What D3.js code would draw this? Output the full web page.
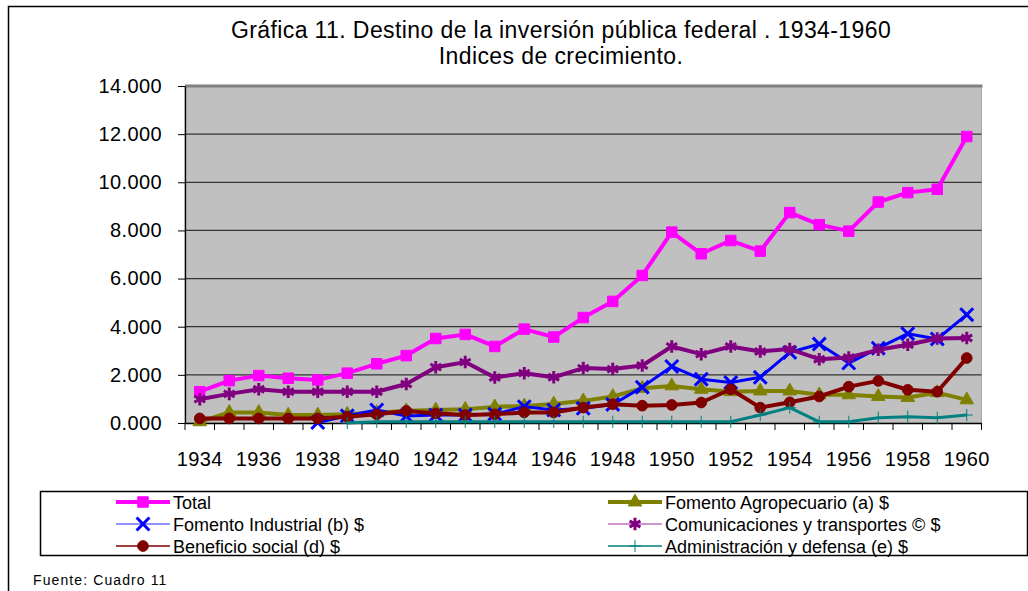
<!DOCTYPE html>
<html>
<head>
<meta charset="utf-8">
<script src="https://cdn.jsdelivr.net/npm/d3@7"></script>
<style>
    body { margin: 0; background: #fff; }
    svg { font-family: "Liberation Sans", Arial, sans-serif; }
</style>
</head>
<body>
<svg id="chart" width="1028" height="591"></svg>
<script>
// years on the category axis
const years = d3.range(1934, 1961);
const yearLabels = years.filter(y => y % 2 === 0);
const yTicks = [0, 2, 4, 6, 8, 10, 12, 14];

// growth indices (null = no value)
const total = [1.30, 1.76, 1.97, 1.86, 1.79, 2.07, 2.46, 2.80, 3.51, 3.68, 3.18, 3.90, 3.57, 4.38,
    5.05, 6.13, 7.93, 7.03, 7.58, 7.14, 8.74, 8.24, 7.97, 9.18, 9.57, 9.71, 11.90];
const agropecuario = [0.05, 0.44, 0.44, 0.33, 0.33, 0.36, 0.43, 0.51, 0.54, 0.57, 0.67, 0.71, 0.79, 0.92,
    1.10, 1.44, 1.54, 1.40, 1.30, 1.33, 1.33, 1.17, 1.17, 1.10, 1.06, 1.26, 0.96];
const industrial = [null, null, null, null, 0.02, 0.30, 0.54, 0.29, 0.33, 0.33, 0.37, 0.68, 0.54, 0.61,
    0.77, 1.49, 2.35, 1.82, 1.68, 1.90, 2.93, 3.28, 2.49, 3.11, 3.71, 3.49, 4.50];
const comunicaciones = [0.99, 1.21, 1.40, 1.30, 1.30, 1.30, 1.30, 1.62, 2.32, 2.53, 1.89, 2.07, 1.90, 2.28,
    2.24, 2.39, 3.18, 2.86, 3.18, 2.97, 3.07, 2.65, 2.72, 3.04, 3.25, 3.51, 3.53];
const beneficio = [0.19, 0.19, 0.19, 0.19, 0.19, 0.26, 0.36, 0.50, 0.40, 0.33, 0.36, 0.44, 0.44, 0.64,
    0.78, 0.72, 0.75, 0.85, 1.40, 0.64, 0.86, 1.10, 1.51, 1.75, 1.38, 1.30, 2.70];
const administracion = [null, null, null, null, null, 0.00, 0.05, 0.05, 0.05, 0.05, 0.05, 0.05, 0.05, 0.05,
    0.05, 0.05, 0.05, 0.05, 0.05, 0.33, 0.64, 0.05, 0.05, 0.22, 0.26, 0.22, 0.33];

const series = [
    { name: 'Total', values: total, color: '#ff00ff', legendColor: '#ff00ff', width: 4, legendWidth: 4, symbol: d3.symbolSquare, size: 110, fill: true },
    { name: 'Fomento Agropecuario (a) $', values: agropecuario, color: '#808000', legendColor: '#808000', width: 4, legendWidth: 4, symbol: d3.symbolTriangle, size: 80, fill: true },
    { name: 'Fomento Industrial (b) $', values: industrial, color: '#0000ff', legendColor: '#6f6fff', width: 3, legendWidth: 1.5, symbol: d3.symbolTimes, size: 110, fill: false },
    { name: 'Comunicaciones y transportes © $', values: comunicaciones, color: '#800080', legendColor: '#c070c0', width: 4, legendWidth: 1.5, symbol: d3.symbolAsterisk, size: 110, fill: false },
    { name: 'Beneficio social (d) $', values: beneficio, color: '#800000', legendColor: '#800000', width: 4, legendWidth: 1.5, symbol: d3.symbolCircle, size: 90, fill: true },
    { name: 'Administración y defensa (e)  $', values: administracion, color: '#008080', legendColor: '#008080', width: 3, legendWidth: 1.5, symbol: d3.symbolPlus, size: 50, fill: true }
];

const plot = { left: 185, right: 981.5, top: 86, bottom: 423 };

const svg = d3.select('#chart');

// outer chart border (only top and left fall inside the picture)
svg.append('rect')
    .attr('x', 8.5).attr('y', 6.5)
    .attr('width', 1040).attr('height', 600)
    .attr('fill', '#fff').attr('stroke', '#000').attr('stroke-width', 1.5);

const x = d3.scaleBand().domain(years).range([plot.left, plot.right]).padding(0);
const y = d3.scaleLinear().domain([0, 14]).range([plot.bottom, plot.top]);
const cx = d => x(d) + x.bandwidth() / 2;

// plot area
svg.append('rect')
    .attr('x', plot.left).attr('y', plot.top)
    .attr('width', plot.right - plot.left).attr('height', plot.bottom - plot.top)
    .attr('fill', '#c0c0c0')
    .attr('stroke', '#a6a6a6').attr('stroke-width', 1);

// gridlines
svg.append('g')
    .selectAll('line')
    .data(yTicks.slice(1, -1))
    .join('line')
    .attr('x1', plot.left).attr('x2', plot.right)
    .attr('y1', d => y(d)).attr('y2', d => y(d))
    .attr('stroke', '#333').attr('stroke-width', 1.3);

// heavy top edge of the plot area
svg.append('line')
    .attr('x1', plot.left).attr('x2', plot.right + 1)
    .attr('y1', plot.top).attr('y2', plot.top)
    .attr('stroke', '#808080').attr('stroke-width', 3);

// y axis
const yAxis = svg.append('g')
    .attr('transform', `translate(${plot.left},0)`)
    .call(d3.axisLeft(y).tickValues(yTicks).tickSize(7).tickSizeOuter(0).tickPadding(16)
        .tickFormat(d3.format('.3f')));
yAxis.select('.domain').attr('stroke', '#000').attr('stroke-width', 1.3);
yAxis.selectAll('.tick line').attr('stroke', '#000');
yAxis.selectAll('text').attr('font-size', 20).attr('fill', '#000')
    .attr('font-family', '"Liberation Sans", Arial, sans-serif').attr('letter-spacing', 0.4);

// x axis: labels at centres of every other year, ticks between categories
const xAxis = svg.append('g')
    .attr('transform', `translate(0,${plot.bottom})`)
    .call(d3.axisBottom(x).tickValues(yearLabels).tickSize(0).tickPadding(29));
xAxis.select('.domain').attr('stroke', '#000').attr('stroke-width', 1.3);
xAxis.selectAll('text').attr('font-size', 20).attr('fill', '#000')
    .attr('font-family', '"Liberation Sans", Arial, sans-serif').attr('letter-spacing', 0.4);
xAxis.selectAll('.sep')
    .data(years.map(d => x(d)).concat([plot.right]))
    .join('line')
    .attr('class', 'sep')
    .attr('x1', d => d).attr('x2', d => d)
    .attr('y1', 0).attr('y2', 7)
    .attr('stroke', '#000');

// series lines and markers
const line = d3.line()
    .defined(d => d.v !== null)
    .x(d => cx(d.year))
    .y(d => y(d.v));

series.forEach(s => {
    const pts = years.map((yr, i) => ({ year: yr, v: s.values[i] }));
    svg.append('path')
        .datum(pts)
        .attr('d', line)
        .attr('fill', 'none')
        .attr('stroke', s.color)
        .attr('stroke-width', s.width)
        .attr('stroke-linejoin', 'round');
    svg.append('g')
        .selectAll('path')
        .data(pts.filter(d => d.v !== null))
        .join('path')
        .attr('transform', d => `translate(${cx(d.year)},${y(d.v)})`)
        .attr('d', d3.symbol(s.symbol, s.size))
        .attr('fill', s.fill ? s.color : 'none')
        .attr('stroke', s.color)
        .attr('stroke-width', s.fill ? 1 : 3);
});

// titles
svg.append('text')
    .attr('x', 561).attr('y', 38)
    .attr('text-anchor', 'middle')
    .attr('font-size', 23).attr('letter-spacing', 0.4)
    .text('Gráfica 11. Destino de la inversión pública federal . 1934-1960');
svg.append('text')
    .attr('x', 561).attr('y', 64)
    .attr('text-anchor', 'middle')
    .attr('font-size', 23).attr('letter-spacing', 0.4)
    .text('Indices de crecimiento.');

// legend
svg.append('rect')
    .attr('x', 40.5).attr('y', 491.5)
    .attr('width', 987).attr('height', 64)
    .attr('fill', '#fff').attr('stroke', '#000').attr('stroke-width', 1.5);

const legendCols = [116, 608];
const legendRows = [502, 524, 546];
series.forEach((s, i) => {
    const lx = legendCols[i % 2], ly = legendRows[Math.floor(i / 2)];
    const g = svg.append('g').attr('transform', `translate(${lx},${ly})`);
    g.append('line')
        .attr('x1', 0).attr('x2', 54)
        .attr('stroke', s.legendColor).attr('stroke-width', s.legendWidth);
    g.append('path')
        .attr('transform', 'translate(27,0)')
        .attr('d', d3.symbol(s.symbol, s.size))
        .attr('fill', s.fill ? s.color : 'none')
        .attr('stroke', s.color)
        .attr('stroke-width', s.fill ? 1 : 3);
    g.append('text')
        .attr('x', 57).attr('y', 6.5)
        .attr('font-size', 18)
        .text(s.name);
});

// source note
svg.append('text')
    .attr('x', 33).attr('y', 585)
    .attr('font-size', 14).attr('letter-spacing', 1.1)
    .text('Fuente: Cuadro 11');
</script>
</body>
</html>
